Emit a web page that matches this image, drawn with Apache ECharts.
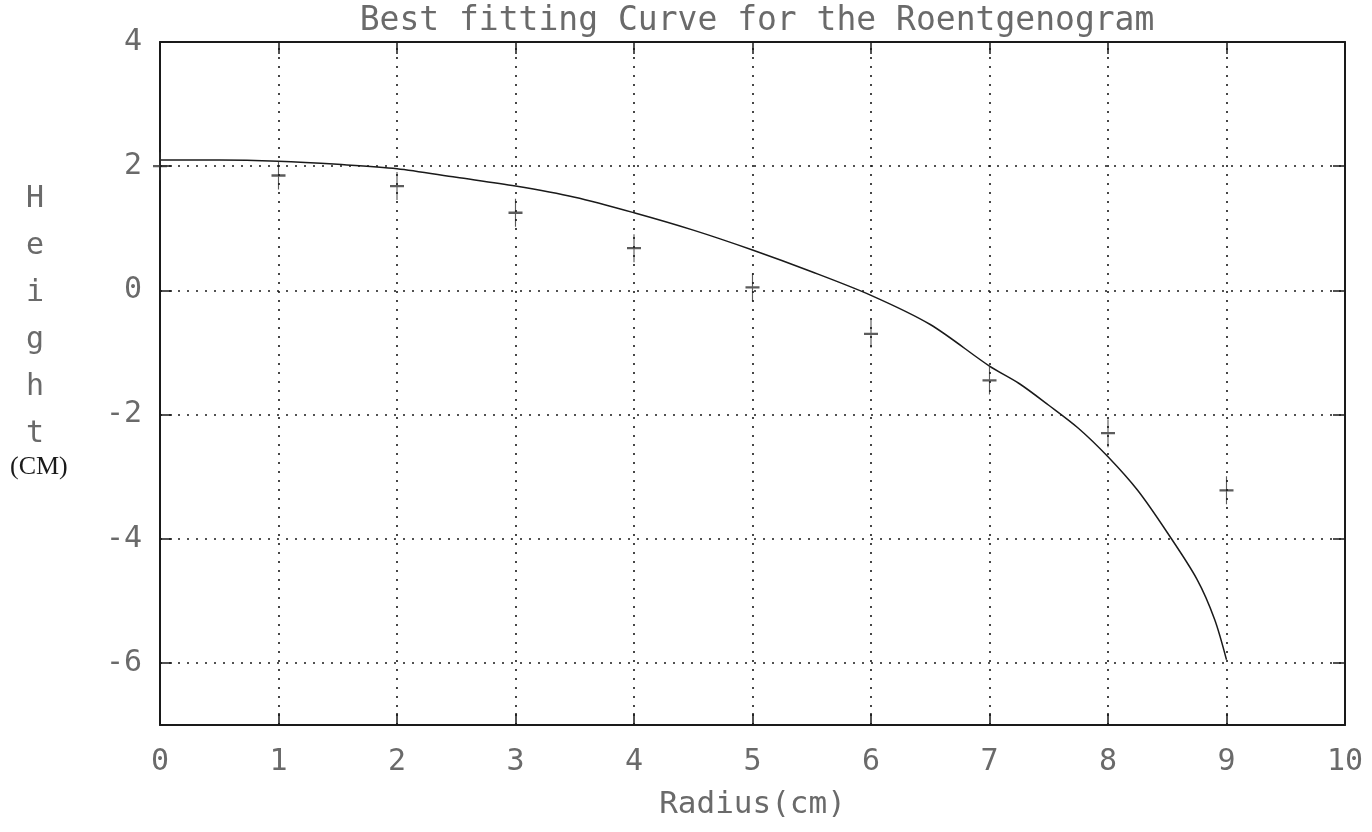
<!DOCTYPE html>
<html>
<head>
<meta charset="utf-8">
<title>Best fitting Curve for the Roentgenogram</title>
<script src="https://cdn.jsdelivr.net/npm/echarts@6/dist/echarts.min.js"></script>
<style>
  html, body { margin: 0; padding: 0; background: #fff; }
  #chart { width: 1372px; height: 832px; }
</style>
</head>
<body>
<div id="chart"></div>
<script>
// fitted curve
var fitRadius = [0, 0.5, 1, 1.5, 2, 2.5, 3, 3.5, 4, 4.5, 5, 5.5, 6, 6.5, 7, 7.25, 7.5, 7.75, 8, 8.25, 8.5, 8.75, 8.9, 9];
var fitHeight = [2.1, 2.1, 2.08, 2.03, 1.96, 1.82, 1.68, 1.5, 1.25, 0.97, 0.65, 0.3, -0.08, -0.55, -1.22, -1.5, -1.85, -2.22, -2.68, -3.22, -3.9, -4.65, -5.3, -5.95];
// measured points (+)
var sampleRadius = [0, 1, 2, 3, 4, 5, 6, 7, 8, 9];
var sampleHeight = [2.0, 1.85, 1.68, 1.25, 0.68, 0.05, -0.7, -1.45, -2.3, -3.22];
// axes
var xTicks = [0, 1, 2, 3, 4, 5, 6, 7, 8, 9, 10];
var yTicks = [-6, -4, -2, 0, 2, 4];
var xGrid = [1, 2, 3, 4, 5, 6, 7, 8, 9];
var yGrid = [-6, -4, -2, 0, 2];

var ink = '#1a1a1a';
var faint = '#6a6a6a';
var plotFont = "'DejaVu Sans Mono', 'Liberation Mono', monospace";

var myChart = echarts.init(document.getElementById('chart'));

var curveData = fitRadius.map(function (r, i) { return [r, fitHeight[i]]; });
var sampleData = sampleRadius.map(function (r, i) { return [r, sampleHeight[i]]; });

var gridLines = [];
yGrid.forEach(function (v) { gridLines.push({ yAxis: v }); });
xGrid.forEach(function (v) { gridLines.push({ xAxis: v }); });

var frameLine = { show: true, onZero: false, lineStyle: { color: ink, width: 2 } };
var xTickStyle = { show: true, inside: true, length: 12, lineStyle: { color: ink, width: 1.5 } };
var yTickStyle = { show: true, inside: true, length: 12, customValues: yTicks, lineStyle: { color: ink, width: 1.5 } };

var option = {
  backgroundColor: '#fff',
  animation: false,
  title: {
    text: 'Best fitting Curve for the Roentgenogram',
    left: 752,
    textAlign: 'center',
    top: 0,
    textStyle: { fontFamily: plotFont, fontWeight: 'lighter', fontSize: 33, color: faint }
  },
  grid: { left: 160, right: 27, top: 42, bottom: 107 },
  xAxis: [{
    type: 'value',
    min: 0, max: 10, interval: 1,
    name: 'Radius(cm)',
    nameLocation: 'middle',
    nameGap: 64,
    nameTextStyle: { fontFamily: plotFont, fontWeight: 'lighter', fontSize: 31, color: faint },
    axisLine: frameLine,
    axisTick: xTickStyle,
    splitLine: { show: false },
    axisLabel: {
      customValues: xTicks,
      margin: 22,
      fontFamily: plotFont, fontWeight: 'lighter', fontSize: 30, color: faint
    }
  }, {
    type: 'value',
    position: 'top',
    min: 0, max: 10, interval: 1,
    axisLine: frameLine,
    axisTick: xTickStyle,
    splitLine: { show: false },
    axisLabel: { show: false }
  }],
  yAxis: [{
    type: 'value',
    min: -7, max: 4, interval: 1,
    axisLine: frameLine,
    axisTick: yTickStyle,
    splitLine: { show: false },
    axisLabel: {
      customValues: yTicks,
      margin: 18,
      formatter: function (v) { return v < 0 ? '-' + Math.abs(v) : String(v); },
      fontFamily: plotFont, fontWeight: 'lighter', fontSize: 30, color: faint
    }
  }, {
    type: 'value',
    position: 'right',
    min: -7, max: 4, interval: 1,
    axisLine: frameLine,
    axisTick: yTickStyle,
    splitLine: { show: false },
    axisLabel: { show: false }
  }],
  graphic: [{
    type: 'text',
    left: 26, top: 176,
    style: {
      text: 'H\ne\ni\ng\nh\nt',
      fontFamily: plotFont, fontWeight: 'lighter', fontSize: 30, lineHeight: 47,
      fill: faint, align: 'center'
    }
  }, {
    type: 'text',
    left: 10, top: 454,
    style: {
      text: '(CM)',
      fontFamily: "'Liberation Serif', 'DejaVu Serif', serif",
      fontSize: 26, fill: ink
    }
  }],
  series: [{
    name: 'grid',
    type: 'line',
    data: [],
    silent: true,
    markLine: {
      silent: true,
      symbol: 'none',
      label: { show: false },
      lineStyle: { color: ink, width: 1.6, type: [2, 7] },
      emphasis: { disabled: true },
      data: gridLines
    }
  }, {
    name: 'Best fitting curve',
    type: 'line',
    data: curveData,
    showSymbol: false,
    smooth: 0.3,
    lineStyle: { color: ink, width: 1.5 },
    z: 3
  }, {
    name: 'Measured',
    type: 'scatter',
    data: sampleData,
    symbol: 'path://M5,0 L5,20 M0,10 L10,10',
    symbolSize: [14, 28],
    itemStyle: { color: 'transparent', borderColor: '#333', borderWidth: 1.6 },
    z: 4
  }]
};

myChart.setOption(option);
</script>
</body>
</html>
